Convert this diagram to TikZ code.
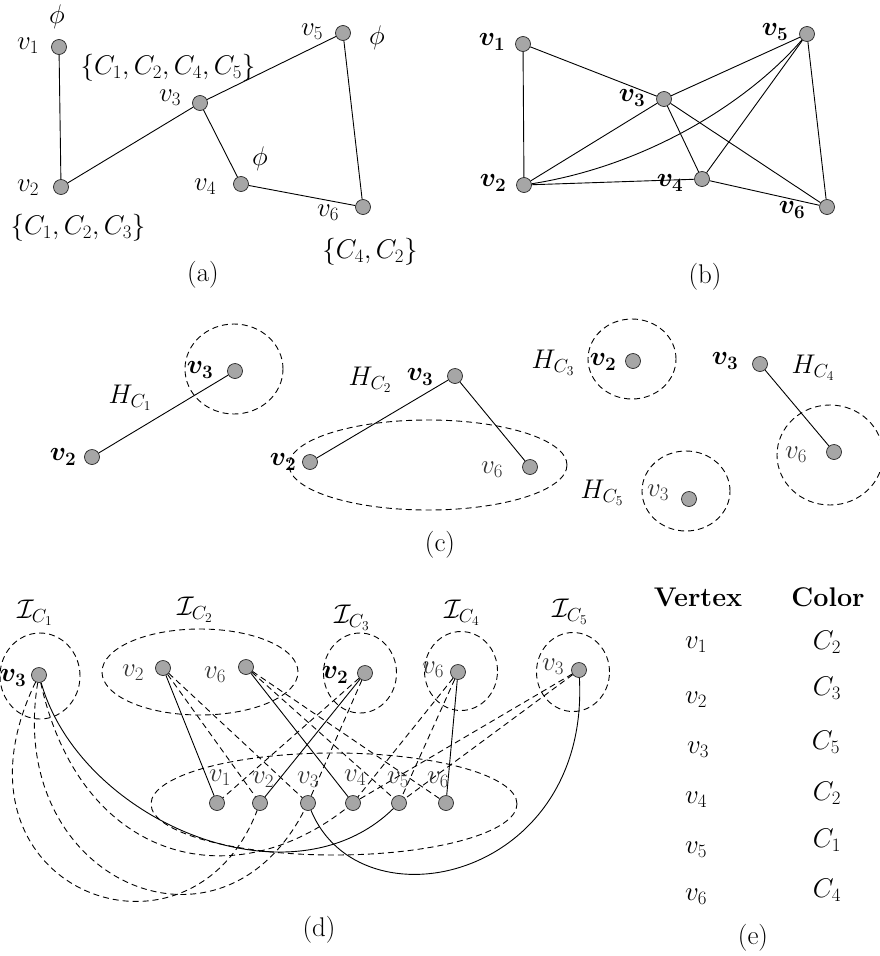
\RequirePackage{fix-cm}
\documentclass[tikz,border=0pt]{standalone}
\usepackage{amsmath,bm}
\tikzset{
 vtx/.style={circle,draw=black!85,fill=gray!70,line width=0.7pt,minimum size=15pt,inner sep=0pt},
 lbl/.style={inner sep=0pt,font=\fontsize{27}{31}\selectfont},
 glbl/.style={lbl,text=black!80},
 edge/.style={line width=0.9pt},
 dedge/.style={line width=0.9pt,dash pattern=on 6pt off 4pt},
 grp/.style={line width=0.9pt,dash pattern=on 6pt off 4pt},
}
\begin{document}
\begin{tikzpicture}[x=1pt,y=-1pt]
\useasboundingbox (0,0) rectangle (879,956);
% ---------------- (a)
\node[vtx] (a1) at (59,47) {};
\node[vtx] (a2) at (61,187) {};
\node[vtx] (a3) at (200,103) {};
\node[vtx] (a4) at (241,184) {};
\node[vtx] (a5) at (343,33) {};
\node[vtx] (a6) at (363,207) {};
\draw[edge] (a1) -- (a2);
\draw[edge] (a2) -- (a3);
\draw[edge] (a3) -- (a5);
\draw[edge] (a3) -- (a4);
\draw[edge] (a4) -- (a6);
\draw[edge] (a5) -- (a6);
\node[lbl] (la1) at (28,46) {$v_1$};
\node[lbl] (pa1) at (57,17) {$\phi$};
\node[lbl] (la2) at (28,188) {$v_2$};
\node[lbl] (sa2) at (78,228) {$\{C_1,C_2,C_3\}$};
\node[lbl] (la3) at (170,98) {$v_3$};
\node[lbl] (sa3) at (168,68) {$\{C_1,C_2,C_4,C_5\}$};
\node[lbl] (la4) at (205,187) {$v_4$};
\node[lbl] (pa4) at (260,159) {$\phi$};
\node[lbl] (la5) at (312,32) {$v_5$};
\node[lbl] (pa5) at (377,38) {$\phi$};
\node[lbl] (la6) at (328,213) {$v_6$};
\node[lbl] (sa6) at (370,252) {$\{C_4,C_2\}$};
\node[lbl] (capa) at (203,275) {(a)};
% ---------------- (b)
\node[vtx] (b1n) at (523,44) {};
\node[vtx] (b2n) at (524,185) {};
\node[vtx] (b3n) at (664,99) {};
\node[vtx] (b4n) at (702,179) {};
\node[vtx] (b5n) at (807,34) {};
\node[vtx] (b6n) at (827,207) {};
\draw[edge] (b1n) -- (b2n);
\draw[edge] (b1n) -- (b3n);
\draw[edge] (b2n) -- (b3n);
\draw[edge] (b2n) -- (b4n);
\draw[edge] (b2n) .. controls (650,165) and (750,100) .. (b5n);
\draw[edge] (b3n) -- (b5n);
\draw[edge] (b3n) -- (b4n);
\draw[edge] (b3n) -- (b6n);
\draw[edge] (b4n) -- (b5n);
\draw[edge] (b4n) -- (b6n);
\draw[edge] (b5n) -- (b6n);
\node[lbl] (lb1) at (492,42) {$\bm{v_1}$};
\node[lbl] (lb2) at (493,183) {$\bm{v_2}$};
\node[lbl] (lb3) at (632,98) {$\bm{v_3}$};
\node[lbl] (lb4) at (670,183) {$\bm{v_4}$};
\node[lbl] (lb5) at (775,32) {$\bm{v_5}$};
\node[lbl] (lb6) at (792,210) {$\bm{v_6}$};
\node[lbl] (capb) at (705,277) {(b)};
% ---------------- (c)
\draw[grp] (234,369) ellipse [x radius=49pt, y radius=45pt];
\node[vtx] (c1a) at (235,371) {};
\node[vtx] (c1b) at (92,457) {};
\draw[edge] (c1b) -- (c1a);
\node[lbl] (lc1a) at (200,370) {$\bm{v_3}$};
\node[lbl] (lc1b) at (63,457) {$\bm{v_2}$};
\node[lbl] (hc1) at (130,398) {$H_{C_1}$};
\draw[grp] (428,465) ellipse [x radius=139pt, y radius=45pt];
\node[vtx] (c2a) at (455,376) {};
\node[vtx] (c2b) at (310,462) {};
\node[vtx] (c2c) at (530,467) {};
\draw[edge] (c2b) -- (c2a);
\draw[edge] (c2a) -- (c2c);
\node[lbl] (lc2a) at (420,377) {$\bm{v_3}$};
\node[lbl] (lc2b) at (283,462) {$\bm{v_2}$};
\node[glbl] (lc2c) at (492,470) {$v_6$};
\node[lbl] (hc2) at (370,380) {$H_{C_2}$};
\draw[grp] (632,359) ellipse [x radius=44pt, y radius=40pt];
\node[vtx] (c3a) at (633,361) {};
\node[lbl] (lc3a) at (603,362) {$\bm{v_2}$};
\node[lbl] (hc3) at (553,363) {$H_{C_3}$};
\draw[grp] (830,455) ellipse [x radius=53pt, y radius=50pt];
\node[vtx] (c4a) at (760,364) {};
\node[vtx] (c4b) at (834,452) {};
\draw[edge] (c4a) -- (c4b);
\node[lbl] (lc4a) at (725,361) {$\bm{v_3}$};
\node[glbl] (lc4b) at (796,455) {$v_6$};
\node[lbl] (hc4) at (813,368) {$H_{C_4}$};
\draw[grp] (686,491) ellipse [x radius=44pt, y radius=40pt];
\node[vtx] (c5a) at (689,499) {};
\node[glbl] (lc5a) at (658,493) {$v_3$};
\node[lbl] (hc5) at (602,493) {$H_{C_5}$};
\node[lbl] (capc) at (440,545) {(c)};
% ---------------- (d)
\draw[grp] (40,676) ellipse [x radius=40pt, y radius=43pt];
\draw[grp] (200,672) ellipse [x radius=98pt, y radius=43pt];
\draw[grp] (360,673) ellipse [x radius=36.5pt, y radius=40pt];
\draw[grp] (461,671) ellipse [x radius=36.5pt, y radius=39.5pt];
\draw[grp] (573,672) ellipse [x radius=36.5pt, y radius=39.5pt];
\draw[grp] (334,804) ellipse [x radius=183pt, y radius=51pt];
\node[vtx] (t1) at (39,675) {};
\node[vtx] (t2a) at (163,668) {};
\node[vtx] (t2b) at (246,667) {};
\node[vtx] (t3) at (365,673) {};
\node[vtx] (t4) at (458,672) {};
\node[vtx] (t5) at (579,670) {};
\node[vtx] (d1) at (217,803) {};
\node[vtx] (d2) at (260,803) {};
\node[vtx] (d3) at (308,803) {};
\node[vtx] (d4) at (353,803) {};
\node[vtx] (d5) at (399,803) {};
\node[vtx] (d6) at (446,803) {};
% solid: assigned colours
\draw[edge] (t2a) -- (d1);
\draw[edge] (t2b) -- (d4);
\draw[edge] (t3) -- (d2);
\draw[edge] (t4) -- (d6);
\draw[edge] (t1) .. controls (80,820) and (290,910) .. (d5);
\draw[edge] (t5) .. controls (590,880) and (360,930) .. (d3);
% dashed
\draw[dedge] (t1) .. controls (80,860) and (230,900) .. (d4);
\draw[dedge] (t1) .. controls (5,880) and (220,975) .. (d3);
\draw[dedge] (t1) .. controls (-65,890) and (190,985) .. (d2);
\draw[dedge] (t2a) -- (d2);
\draw[dedge] (t2a) -- (d3);
\draw[dedge] (t2b) -- (d5);
\draw[dedge] (t2b) -- (d6);
\draw[dedge] (t3) -- (d1);
\draw[dedge] (t3) -- (d3);
\draw[dedge] (t4) -- (d4);
\draw[dedge] (t4) -- (d5);
\draw[dedge] (t5) -- (d4);
\draw[dedge] (t5) -- (d5);
\node[lbl] (lt1) at (13,678) {$\bm{v_3}$};
\node[glbl] (lt2a) at (133,673) {$v_2$};
\node[glbl] (lt2b) at (215,675) {$v_6$};
\node[lbl] (lt3) at (335,675) {$\bm{v_2}$};
\node[glbl] (lt4) at (433,670) {$v_6$};
\node[glbl] (lt5) at (553,667) {$v_3$};
\node[glbl] (ld1) at (220,778) {$v_1$};
\node[glbl] (ld2) at (263,780) {$v_2$};
\node[glbl] (ld3) at (308,780) {$v_3$};
\node[glbl] (ld4) at (355,778) {$v_4$};
\node[glbl] (ld5) at (398,780) {$v_5$};
\node[glbl] (ld6) at (438,780) {$v_6$};
\node[lbl] (i1) at (35,613) {$\mathcal{I}_{C_1}$};
\node[lbl] (i2) at (195,610) {$\mathcal{I}_{C_2}$};
\node[lbl] (i3) at (352,618) {$\mathcal{I}_{C_3}$};
\node[lbl] (i4) at (462,613) {$\mathcal{I}_{C_4}$};
\node[lbl] (i5) at (570,612) {$\mathcal{I}_{C_5}$};
\node[lbl] (capd) at (319,930) {(d)};
% ---------------- (e)
\node[lbl] (hv) at (698,597) {\textbf{Vertex}};
\node[lbl] (hcol) at (828,597) {\textbf{Color}};
\node[lbl] (e1) at (696,645) {$v_1$};
\node[lbl] (f1) at (827,642) {$C_2$};
\node[lbl] (e2) at (696,700) {$v_2$};
\node[lbl] (f2) at (827,688) {$C_3$};
\node[lbl] (e3) at (698,750) {$v_3$};
\node[lbl] (f3) at (826,742) {$C_5$};
\node[lbl] (e4) at (696,800) {$v_4$};
\node[lbl] (f4) at (827,793) {$C_2$};
\node[lbl] (e5) at (696,850) {$v_5$};
\node[lbl] (f5) at (827,840) {$C_1$};
\node[lbl] (e6) at (696,897) {$v_6$};
\node[lbl] (f6) at (827,890) {$C_4$};
\node[lbl] (cape) at (753,938) {(e)};
\end{tikzpicture}
\end{document}
